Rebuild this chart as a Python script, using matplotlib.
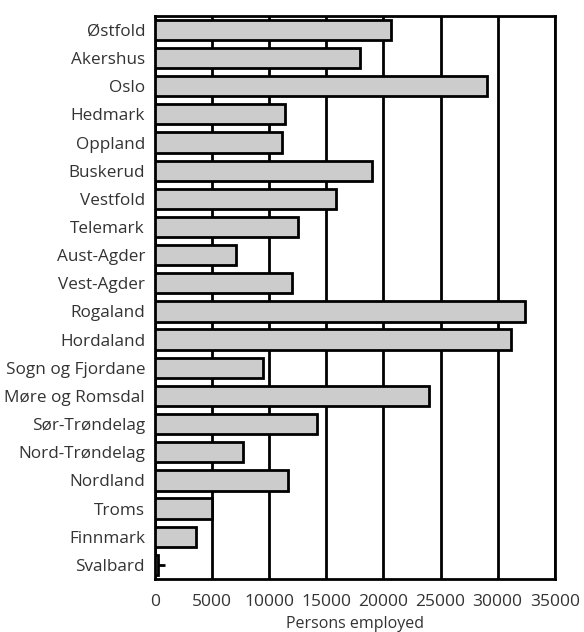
import matplotlib
matplotlib.use("Agg")
import matplotlib.pyplot as plt
import numpy as np

counties = ["Østfold", "Akershus", "Oslo", "Hedmark", "Oppland", "Buskerud",
            "Vestfold", "Telemark", "Aust-Agder", "Vest-Agder", "Rogaland",
            "Hordaland", "Sogn og Fjordane", "Møre og Romsdal", "Sør-Trøndelag",
            "Nord-Trøndelag", "Nordland", "Troms", "Finnmark", "Svalbard"]
employed = [20700, 17950, 29100, 11400, 11100, 19050, 15900, 12500, 7150,
            12050, 32400, 31200, 9500, 24000, 14200, 7700, 11700, 5000, 3600, 300]
# small whisker visible only on Svalbard
upper_err = [0] * 19 + [600]
xticks = [0, 5000, 10000, 15000, 20000, 25000, 30000, 35000]

plt.rcParams['font.family'] = ['Open Sans', 'DejaVu Sans']
fig = plt.figure(figsize=(5.84, 6.32), dpi=100)
ax = fig.add_axes([0.265, 0.084, 0.685, 0.891])

y = np.arange(len(counties))
ax.barh(y, employed, height=0.72, color="#cccccc", edgecolor="black",
        linewidth=2, zorder=3)
mask = np.array(upper_err) > 0
ax.errorbar(np.array(employed)[mask], y[mask],
            xerr=[np.zeros(mask.sum()), np.array(upper_err)[mask]],
            fmt="none", ecolor="black", elinewidth=2, capsize=0, zorder=4)
ax.set_ylim(len(counties) - 0.5, -0.5)
ax.set_xlim(0, 35000)
ax.set_xticks(xticks)
ax.set_xticklabels([str(t) for t in xticks], fontsize=12.5, color="#333333")
ax.set_yticks(y)
ax.set_yticklabels(counties, fontsize=12.3, color="#333333")
ax.tick_params(axis="y", length=0, pad=7)
ax.tick_params(axis="x", length=0, pad=11)
ax.grid(axis="x", color="black", linewidth=2, zorder=1)
for s in ax.spines.values():
    s.set_linewidth(2)
ax.set_xlabel("Persons employed", fontsize=11.5, color="#333333", labelpad=4)
fig.savefig("out.png", dpi=100)
